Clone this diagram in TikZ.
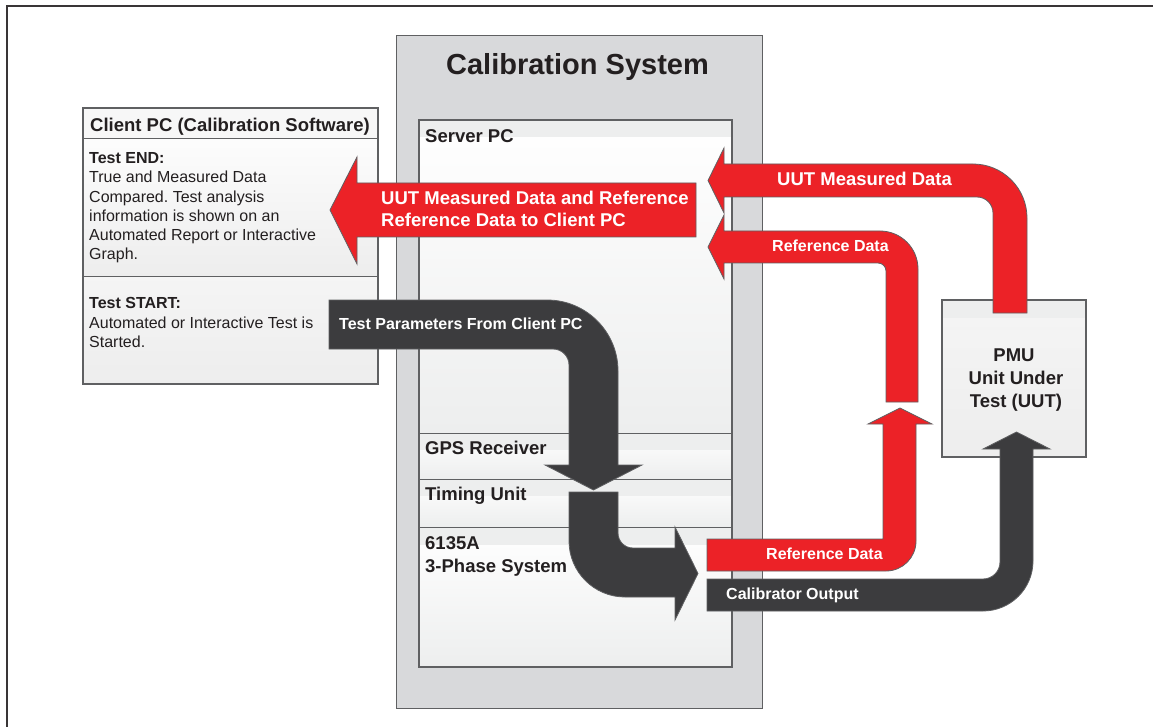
\documentclass[tikz,border=0pt]{standalone}
\usepackage{fontspec}
\setmainfont{Liberation Sans}
\frenchspacing
\definecolor{fred}{HTML}{EC2227}
\definecolor{fdark}{HTML}{3C3C3E}
\definecolor{calgray}{HTML}{D8D9DB}
\definecolor{bordergray}{HTML}{5F6062}
\definecolor{bandgray}{HTML}{EDEEEE}
\definecolor{textdark}{HTML}{231F20}
\begin{document}
\begin{tikzpicture}[x=1pt,y=-1pt,
  lbl/.style={inner sep=0pt, anchor=base west, text=white, font=\bfseries\fontsize{16}{19}\selectfont},
  biglbl/.style={inner sep=0pt, anchor=base west, text=white, font=\bfseries\fontsize{18.5}{22}\selectfont},
  sectlbl/.style={inner sep=0pt, anchor=base west, text=textdark, font=\bfseries\fontsize{18.5}{22}\selectfont},
  pmulbl/.style={inner sep=0pt, anchor=base, text=textdark, font=\bfseries\fontsize{18.5}{22}\selectfont},
  bodytxt/.style={inner sep=0pt, anchor=base west, text=textdark, font=\fontsize{16}{19}\selectfont},
  bodybold/.style={inner sep=0pt, anchor=base west, text=textdark, font=\bfseries\fontsize{16}{19}\selectfont},
  redarrow/.style={fill=fred, draw=bordergray, line width=0.8pt},
  darkarrow/.style={fill=fdark, draw=bordergray, line width=0.8pt},
  boxline/.style={draw=bordergray, line width=1.2pt},
  sect/.style={top color=white, bottom color=bandgray},
  band/.style={fill=bandgray}
]
\useasboundingbox (0,0) rectangle (1153,727);
\clip (0,0) rectangle (1153,727);
\fill[white] (0,0) rectangle (1153,727);
% outer frame
\draw[draw=textdark!90, line width=2pt] (7,6) rectangle (1175,750);

% Calibration system
\draw[fill=calgray, draw=bordergray, line width=1pt] (396,36) rectangle (762,708);
\node[inner sep=0pt, anchor=base, text=textdark, font=\bfseries\fontsize{29}{34}\selectfont] (caltitle) at (577.5,75) {Calibration System};

% Server PC sections
\fill[sect] (419,120) rectangle (732,433);
\fill[band] (419,120) rectangle (732,137);
\fill[sect] (419,433) rectangle (732,479);
\fill[band] (419,433) rectangle (732,450);
\fill[sect] (419,479) rectangle (732,527);
\fill[band] (419,479) rectangle (732,496);
\fill[sect] (419,527) rectangle (732,667);
\fill[band] (419,527) rectangle (732,545);
\draw[bordergray, line width=1pt] (419,433) -- (732,433) (419,479) -- (732,479) (419,527) -- (732,527);
\draw[boxline] (419,120) rectangle (732,667);
\node[sectlbl] (serverpc) at (425,143) {Server PC};
\node[sectlbl] (gps) at (425,454) {GPS Receiver};
\node[sectlbl] (timing) at (425,500) {Timing Unit};
\node[sectlbl] (sys1) at (425,549) {6135A};
\node[sectlbl] (sys2) at (425,572) {3-Phase System};

% Client PC
\fill[white!97!black] (83,108) rectangle (378,139);
\fill[top color=white!99!black, bottom color=white!93!black] (83,139) rectangle (378,276);
\fill[top color=white!96!black, bottom color=white!93!black] (83,276) rectangle (378,384);
\draw[bordergray, line width=1pt] (83,139) -- (378,139) (83,276) -- (378,276);
\draw[draw=bordergray, line width=2pt] (83,108) rectangle (378,384);
\node[inner sep=0pt, anchor=base west, text=textdark, font=\bfseries\fontsize{18.5}{22}\selectfont] (clienthead) at (90,132) {Client PC (Calibration Software)};
\node[bodybold] (end0) at (89,164) {Test END:};
\node[bodytxt] (end1) at (89,183) {True and Measured Data};
\node[bodytxt] (end2) at (89,203) {Compared. Test analysis};
\node[bodytxt] (end3) at (89,222) {information is shown on an};
\node[bodytxt] (end4) at (89,241) {Automated Report or Interactive};
\node[bodytxt] (end5) at (89,260) {Graph.};
\node[bodybold] (start0) at (89,308) {Test START:};
\node[bodytxt] (start1) at (89,328) {Automated or Interactive Test is};
\node[bodytxt] (start2) at (89,347) {Started.};

% PMU box
\fill[top color=white!96!black, bottom color=white!93!black] (942,300) rectangle (1086,457);
\fill[band] (942,300) rectangle (1086,318);
\draw[boxline] (942,300) rectangle (1086,457);
\node[pmulbl] (pmu1) at (1014,361) {PMU};
\node[pmulbl] (pmu2) at (1016,384) {Unit Under};
\node[pmulbl] (pmu3) at (1016,407) {Test (UUT)};

% big red arrow to client PC
\draw[redarrow] (696,183) -- (357,183) -- (357,157) -- (330,210) -- (357,264) -- (357,237) -- (696,237) -- cycle;
\node[biglbl] (bigl1) at (381,205) {UUT Measured Data and Reference};
\node[biglbl] (bigl2) at (381,227) {Reference Data to Client PC};

% UUT measured data arrow
\draw[redarrow] (724,164) -- (973,164) .. controls (1002.8,164) and (1027,188.2) .. (1027,218) -- (1027,313) -- (993,313) -- (993,213) .. controls (993,204.2) and (985.8,197) .. (977,197) -- (724,197) -- (724,213) -- (708,180.5) -- (724,148) -- cycle;
\node[biglbl] (uutlbl) at (777,186) {UUT Measured Data};

% upper reference data arrow
\draw[redarrow] (724,231) -- (880,231) .. controls (901,231) and (918,248) .. (918,269) -- (918,402) -- (886,402) -- (886,271) .. controls (886,266.6) and (882.4,263) .. (878,263) -- (724,263) -- (724,279) -- (708,247) -- (724,215) -- cycle;
\node[lbl] (ref1) at (772,252) {Reference Data};

% lower reference data arrow (up)
\draw[redarrow] (883,424) -- (868,424) -- (900,408) -- (932,424) -- (916,424) -- (916,541) .. controls (916,557.6) and (902.6,571) .. (886,571) -- (707,571) -- (707,539) -- (883,539) -- cycle;
\node[lbl] (ref2) at (766,559) {Reference Data};

% calibrator output arrow
\draw[darkarrow] (707,579) -- (983,579) .. controls (992.4,579) and (1000,571.4) .. (1000,562) -- (1000,449) -- (983,449) -- (1016.5,432) -- (1050,449) -- (1033,449) -- (1033,561) .. controls (1033,588.6) and (1010.6,611) .. (983,611) -- (707,611) -- cycle;
\node[lbl] (calout) at (726,599) {Calibrator Output};

% test parameters arrow
\draw[darkarrow] (329,300) -- (547,300) .. controls (586.2,300) and (618,331.8) .. (618,371) -- (618,465) -- (642,465) -- (593.5,490) -- (545,465) -- (569,465) -- (569,365) .. controls (569,356.2) and (561.8,349) .. (553,349) -- (329,349) -- cycle;
\node[lbl] (testpar) at (339,329) {Test Parameters From Client PC};

% second dark arrow into 6135A output
\draw[darkarrow] (569,492) -- (618,492) -- (618,533) .. controls (618,541.3) and (624.7,548) .. (633,548) -- (675,548) -- (675,527) -- (698,573.5) -- (675,620) -- (675,597) -- (625,597) .. controls (594.1,597) and (569,571.9) .. (569,541) -- cycle;
\end{tikzpicture}
\end{document}
